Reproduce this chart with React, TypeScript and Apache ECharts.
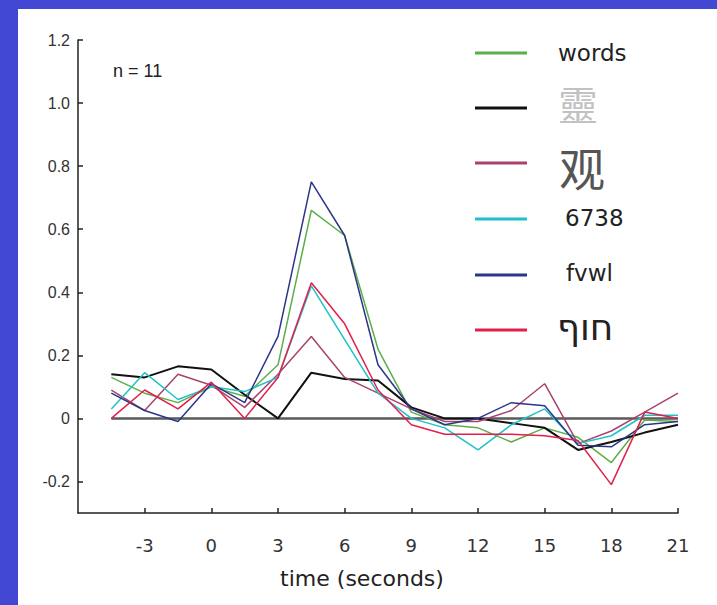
import React, { useEffect, useRef } from "react";
import * as echarts from "echarts";

const times = [-4.5, -3, -1.5, 0, 1.5, 3, 4.5, 6, 7.5, 9, 10.5, 12, 13.5, 15, 16.5, 18, 19.5, 21];

const wordsVals = [0.13, 0.08, 0.05, 0.1, 0.07, 0.17, 0.66, 0.58, 0.22, 0.02, -0.02, -0.03, -0.075, -0.03, -0.06, -0.14, -0.005, -0.01];
const falseFontVals = [0.14, 0.13, 0.165, 0.155, 0.075, 0.0, 0.145, 0.125, 0.12, 0.035, 0.0, 0.0, -0.015, -0.03, -0.1, -0.075, -0.045, -0.02];
const chineseVals = [0.09, 0.025, 0.14, 0.105, 0.035, 0.14, 0.26, 0.13, 0.08, 0.03, -0.01, -0.01, 0.025, 0.11, -0.08, -0.04, 0.02, 0.08];
const numberVals = [0.03, 0.145, 0.06, 0.1, 0.085, 0.13, 0.42, 0.25, 0.08, 0.0, -0.03, -0.1, -0.02, 0.03, -0.08, -0.055, 0.01, 0.01];
const letterVals = [0.08, 0.025, -0.01, 0.11, 0.05, 0.26, 0.75, 0.58, 0.17, 0.03, -0.02, 0.0, 0.05, 0.04, -0.085, -0.09, -0.02, -0.01];
const hebrewVals = [0.0, 0.09, 0.03, 0.115, 0.0, 0.13, 0.43, 0.3, 0.09, -0.02, -0.05, -0.05, -0.05, -0.055, -0.07, -0.21, 0.02, 0.0];
const zeroVals = [0, 0];
const zeroTimes = [-4.5, 21];

const seriesNames = ["words", "false font", "观", "6738", "fvwl", "חוף"];
const legendLabels = ["words", "靈", "观", "6738", "fvwl", "חוף"];
const xTicks = [-3, 0, 3, 6, 9, 12, 15, 18, 21];
const yTicks = [-0.2, 0, 0.2, 0.4, 0.6, 0.8, 1.0, 1.2];

const FONT = "'Liberation Sans', Arial, Helvetica, sans-serif";
const WIDE = "'DejaVu Sans', 'Liberation Sans', sans-serif";
const CJK = "'Noto Sans CJK SC', sans-serif";

export default function App() {
  const ref = useRef<HTMLDivElement>(null);
  useEffect(() => {
    const chart = echarts.init(ref.current!, null, { renderer: "svg" });
    const colors = ["#5cae4a", "#111111", "#a8436c", "#1fc1c9", "#2b3688", "#e21f4c"];
    const widths = [1.5, 2, 1.5, 1.5, 1.5, 1.5];
    const vals = [wordsVals, falseFontVals, chineseVals, numberVals, letterVals, hebrewVals];
    const series: any[] = [
      {
        type: "line",
        name: "zero",
        data: zeroTimes.map((t, i) => [t, zeroVals[i]]),
        symbol: "none",
        lineStyle: { color: "#5a5a5a", width: 2.5 },
        itemStyle: { color: "#5a5a5a" },
        z: 1,
        silent: true,
      },
      ...seriesNames.map((n, k) => ({
        type: "line",
        name: n,
        data: times.map((t, i) => [t, vals[k][i]]),
        symbol: "none",
        lineStyle: { color: colors[k], width: widths[k] },
        itemStyle: { color: colors[k] },
        z: 3,
      })),
    ];

    // legend drawn as graphic elements (inner-div coordinates)
    const rowY = [44, 99, 154, 210, 266, 321];
    const textX = [540, 540, 541, 547, 548, 539];
    const textY = [44, 94, 157, 209, 264, 318];
    const textStyles: any[] = [
      { font: `23px ${WIDE}`, fill: "#222" },
      { font: `40px ${CJK}`, fill: "#c2c2c2" },
      { font: `46px ${CJK}`, fill: "#555" },
      { font: `23px ${WIDE}`, fill: "#222" },
      { font: `23px ${WIDE}`, fill: "#222" },
      { font: `36px ${WIDE}`, fill: "#222" },
    ];
    const graphic: any[] = [];
    legendLabels.forEach((lab, k) => {
      graphic.push({
        type: "line",
        shape: { x1: 457, y1: rowY[k], x2: 509, y2: rowY[k] },
        style: { stroke: colors[k], lineWidth: 3 },
        silent: true,
      });
      graphic.push({
        type: "text",
        x: textX[k],
        y: textY[k],
        style: { text: lab, ...textStyles[k], align: "left", verticalAlign: "middle" },
        silent: true,
      });
    });

    chart.setOption({
      animation: false,
      backgroundColor: "#ffffff",
      color: colors,
      title: {
        text: "n = 11",
        left: 95,
        top: 53,
        padding: 0,
        textStyle: { fontFamily: FONT, fontSize: 18, fontWeight: "normal", color: "#222" },
      },
      grid: { left: 60, top: 31, right: 39, bottom: 92, containLabel: false, outerBoundsMode: "none" },
      graphic,
      xAxis: {
        type: "value",
        min: -6,
        max: 21,
        name: "time (seconds)",
        nameLocation: "middle",
        nameGap: 54,
        nameTextStyle: { fontFamily: WIDE, fontSize: 22, color: "#222", padding: [0, 32, 0, 0] },
        axisLine: { onZero: false, lineStyle: { color: "#222", width: 1.5 } },
        axisTick: { inside: true, length: 5, customValues: xTicks, lineStyle: { color: "#222", width: 1.5 } },
        axisLabel: { customValues: xTicks, margin: 23, fontFamily: WIDE, fontSize: 18, color: "#333" },
        splitLine: { show: false },
      },
      yAxis: {
        type: "value",
        min: -0.3,
        max: 1.2,
        axisLine: { onZero: false, lineStyle: { color: "#222", width: 1.5 } },
        axisTick: { inside: true, length: 5, customValues: yTicks, lineStyle: { color: "#222", width: 1.5 } },
        axisLabel: {
          customValues: yTicks,
          margin: 8,
          fontFamily: FONT,
          fontSize: 16,
          color: "#333",
          formatter: (v: number) => (Math.abs(v) < 1e-9 ? "0" : v.toFixed(1)),
        },
        splitLine: { show: false },
      },
      series,
    });
    return () => chart.dispose();
  }, []);
  return (
    <div style={{ position: "absolute", left: 0, top: 0, width: 717, height: 605, background: "#4248d4" }}>
      <div
        ref={ref}
        style={{ position: "absolute", left: 18, top: 9, width: 699, height: 596, background: "#ffffff" }}
      />
    </div>
  );
}
